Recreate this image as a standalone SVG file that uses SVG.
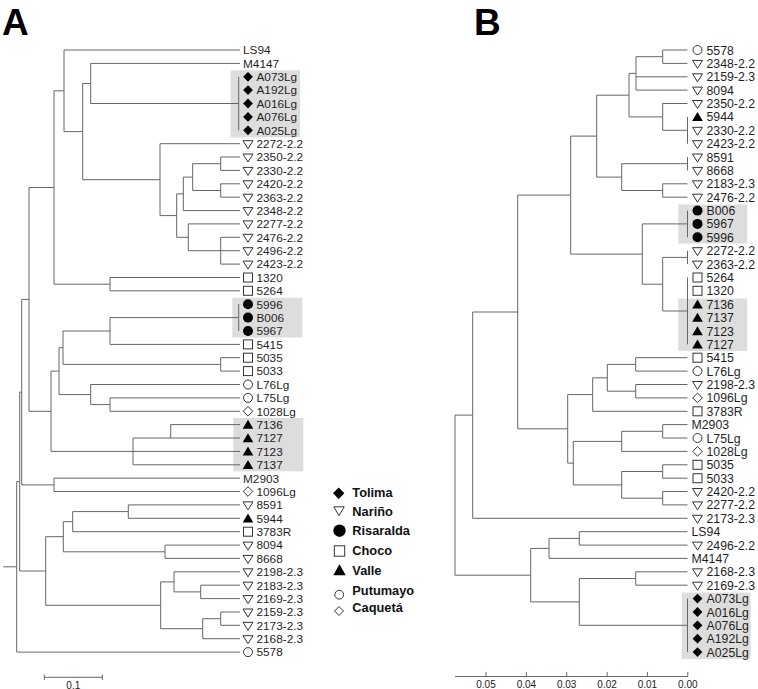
<svg xmlns="http://www.w3.org/2000/svg" xmlns:xlink="http://www.w3.org/1999/xlink" width="758" height="689" viewBox="0 0 758 689">
<style>
.br{fill:none;stroke:#666;stroke-width:1}
.la{font-family:"Liberation Sans",Arial,sans-serif;font-size:11.8px;fill:#1f1f1f}
.lb{font-family:"Liberation Sans",Arial,sans-serif;font-size:12.3px;fill:#1f1f1f}
.lg{font-family:"Liberation Sans",Arial,sans-serif;font-size:12.8px;font-weight:bold;fill:#111}
.pl{font-family:"Liberation Sans",Arial,sans-serif;font-size:37px;font-weight:bold;fill:#000}
.ax{font-family:"Liberation Sans",Arial,sans-serif;font-size:10px;fill:#222;text-anchor:middle}
.hl{fill:#dddddd}
.o{fill:#fff;stroke:#333;stroke-width:1}
.f{fill:#000}
</style>
<defs>
<polygon id="dia" class="f" points="0,-4.9 4.9,0 0,4.9 -4.9,0"/>
<polygon id="diao" class="o" points="0,-4.8 4.8,0 0,4.8 -4.8,0"/>
<polygon id="trd" class="o" points="-5,-3 5,-3 0,5"/>
<polygon id="tru" class="f" points="0,-4.8 5.3,4.2 -5.3,4.2"/>
<circle id="cir" class="f" r="5"/>
<circle id="ciro" class="o" r="4.5"/>
<rect id="sq" class="o" x="-4.5" y="-4.5" width="9" height="9"/>
</defs>
<rect width="758" height="689" fill="#fff"/>
<text class="pl" x="2" y="34.5">A</text>
<text class="pl" x="474" y="34.5">B</text>
<g id="highlights">
<rect class="hl" x="230.5" y="70.3" width="69.5" height="67"/>
<rect class="hl" x="232.3" y="297.7" width="70" height="39.8"/>
<rect class="hl" x="233.3" y="418" width="70" height="53.3"/>
<rect class="hl" x="678.3" y="204.5" width="69" height="39"/>
<rect class="hl" x="678.3" y="298.5" width="69" height="52.5"/>
<rect class="hl" x="681.7" y="592.5" width="69" height="66.5"/>
</g>
<g id="connectors">
<path class="br" d="M3.3,566.8H16.7M16.7,481.6V652.1M16.7,481.6H19.7M16.7,652.1H240M19.7,392.1V571M19.7,392.1H21.7M19.7,571H45.7M21.7,299.4V484.9M21.7,299.4H29M21.7,484.9H54M54,478.2V491.5M54,478.2H240M54,491.5H240M29,187.5V411.3M29,187.5H54M29,411.3H51M54,90.8V284.2M54,90.8H64M54,284.2H110M110,277.5V290.8M110,277.5H240M110,290.8H240M64,50V131.6M64,50H240M64,131.6H82.7M82.7,83.5V179.7M82.7,83.5H90.7M82.7,179.7H160M90.7,63.4V103.5M90.7,63.4H240M90.7,103.5H238.7M238.7,76.8V130.3M160,143.7V215.6M160,143.7H240M160,215.6H176.7M176.7,193.9V237.3M176.7,193.9H183.3M176.7,237.3H188.3M183.3,177.1V210.6M183.3,177.1H192.7M183.3,210.6H240M192.7,163.7V190.5M192.7,163.7H220.7M192.7,190.5H220.7M220.7,157V170.4M220.7,157H240M220.7,170.4H240M220.7,183.8V197.2M220.7,183.8H240M220.7,197.2H240M188.3,223.9V250.7M188.3,223.9H240M188.3,250.7H220.7M220.7,237.3V264.1M220.7,237.3H240M220.7,250.7H240M220.7,264.1H240M51,371.1V451.4M51,371.1H59M51,451.4H133M59,347.7V394.6M59,347.7H63M59,394.6H90.7M63,331V364.4M63,331H110M63,364.4H220.7M110,317.6V344.4M110,317.6H238.7M238.7,304.2V331M110,344.4H240M220.7,357.7V371.1M220.7,357.7H240M220.7,371.1H240M90.7,384.5V404.6M90.7,384.5H240M90.7,404.6H110M110,397.9V411.3M110,397.9H240M110,411.3H240M133,438V464.8M133,438H240M133,451.4H240M133,464.8H240M170.7,424.6V438M170.7,424.6H240M45.7,536.7V605.3M45.7,536.7H63.3M45.7,605.3H160.7M63.3,521.7V551.8M63.3,521.7H72.7M63.3,551.8H165M72.7,511.6V531.7M72.7,511.6H128.3M72.7,531.7H240M128.3,504.9V518.3M128.3,504.9H240M128.3,518.3H240M165,545.1V558.4M165,545.1H240M165,558.4H240M160.7,581.9V628.7M160.7,581.9H174M160.7,628.7H202.7M174,571.8V591.9M174,571.8H240M174,591.9H200.7M200.7,585.2V598.6M200.7,585.2H240M200.7,598.6H240M202.7,618.7V638.7M202.7,618.7H220.7M202.7,638.7H240M220.7,612V625.3M220.7,612H240M220.7,625.3H240"/>
<path class="br" d="M455,415.1V575.2M455,415.1H472.7M455,575.2H530.7M472.7,312V518.3M472.7,312H517.7M472.7,518.3H687.5M517.7,195.1V428.8M517.7,195.1H570.7M517.7,428.8H567.7M570.7,136.1V254.1M570.7,136.1H596.7M570.7,254.1H642.3M596.7,95.2V177.1M596.7,95.2H629M596.7,177.1H621.7M629,73.4V116.9M629,73.4H636M629,116.9H662.7M636,56.7V90.1M636,56.7H662.7M636,76.8H687.5M636,90.1H687.5M662.7,50V63.4M662.7,50H687.5M662.7,63.4H687.5M662.7,103.5V130.3M662.7,103.5H687.5M662.7,130.3H687.5M687.5,116.9V143.7M621.7,163.7V190.5M621.7,163.7H687.5M687.5,157V170.4M621.7,190.5H662.7M662.7,183.8V197.2M662.7,183.8H687.5M662.7,197.2H687.5M642.3,223.9V284.2M642.3,223.9H687.5M687.5,210.6V237.3M642.3,284.2H662.7M662.7,257.4V311M662.7,257.4H687.5M687.5,250.7V264.1M662.7,311H687.5M687.5,277.5V344.4M567.7,394.6V463.1M567.7,394.6H592.7M567.7,463.1H573.3M592.7,377.8V411.3M592.7,377.8H607.3M592.7,411.3H687.5M607.3,364.4V391.2M607.3,364.4H635.7M607.3,391.2H635.7M635.7,357.7V371.1M635.7,357.7H687.5M635.7,371.1H687.5M635.7,384.5V397.9M635.7,384.5H687.5M635.7,397.9H687.5M573.3,441.4V484.9M573.3,441.4H621.7M573.3,484.9H621.7M621.7,431.3V451.4M621.7,431.3H662.7M621.7,451.4H687.5M662.7,424.6V438M662.7,424.6H687.5M662.7,438H687.5M621.7,471.5V498.2M621.7,471.5H662.7M621.7,498.2H662.7M662.7,464.8V478.2M662.7,464.8H687.5M662.7,478.2H687.5M662.7,491.5V504.9M662.7,491.5H687.5M662.7,504.9H687.5M530.7,548.4V601.9M530.7,548.4H549M530.7,601.9H579.3M549,538.4V558.4M549,538.4H579.3M549,558.4H687.5M579.3,531.7V545.1M579.3,531.7H687.5M579.3,545.1H687.5M579.3,578.5V625.3M579.3,578.5H635.7M579.3,625.3H687.5M687.5,598.6V652.1M635.7,571.8V585.2M635.7,571.8H687.5M635.7,585.2H687.5"/>
</g>
<g id="scale-a">
<path class="br" d="M44.3,677.3H102.3M44.3,674.5V680M102.3,674.5V680"/>
<text class="ax" x="73.3" y="688.5">0.1</text>
</g>
<g id="axis-b">
<path class="br" d="M455,676.5H688M486,672V676.5M526.4,672V676.5M566.7,672V676.5M607.1,672V676.5M647.4,672V676.5M687.8,672V676.5"/>
<text class="ax" x="486" y="688">0.05</text>
<text class="ax" x="526.4" y="688">0.04</text>
<text class="ax" x="566.7" y="688">0.03</text>
<text class="ax" x="607.1" y="688">0.02</text>
<text class="ax" x="647.4" y="688">0.01</text>
<text class="ax" x="687.8" y="688">0.00</text>
</g>
<g id="tree-a">
<g id="a-LS94"><text class="la" x="243" y="54.3">LS94</text></g>
<g id="a-M4147"><text class="la" x="243" y="67.7">M4147</text></g>
<g id="a-A073Lg"><use href="#dia" x="248" y="76.8"/><text class="la" x="256.5" y="81.1">A073Lg</text></g>
<g id="a-A192Lg"><use href="#dia" x="248" y="90.1"/><text class="la" x="256.5" y="94.4">A192Lg</text></g>
<g id="a-A016Lg"><use href="#dia" x="248" y="103.5"/><text class="la" x="256.5" y="107.8">A016Lg</text></g>
<g id="a-A076Lg"><use href="#dia" x="248" y="116.9"/><text class="la" x="256.5" y="121.2">A076Lg</text></g>
<g id="a-A025Lg"><use href="#dia" x="248" y="130.3"/><text class="la" x="256.5" y="134.6">A025Lg</text></g>
<g id="a-2272"><use href="#trd" x="248" y="143.7"/><text class="la" x="256.5" y="148">2272-2.2</text></g>
<g id="a-2350"><use href="#trd" x="248" y="157"/><text class="la" x="256.5" y="161.3">2350-2.2</text></g>
<g id="a-2330"><use href="#trd" x="248" y="170.4"/><text class="la" x="256.5" y="174.7">2330-2.2</text></g>
<g id="a-2420"><use href="#trd" x="248" y="183.8"/><text class="la" x="256.5" y="188.1">2420-2.2</text></g>
<g id="a-2363"><use href="#trd" x="248" y="197.2"/><text class="la" x="256.5" y="201.5">2363-2.2</text></g>
<g id="a-2348"><use href="#trd" x="248" y="210.6"/><text class="la" x="256.5" y="214.9">2348-2.2</text></g>
<g id="a-2277"><use href="#trd" x="248" y="223.9"/><text class="la" x="256.5" y="228.2">2277-2.2</text></g>
<g id="a-2476"><use href="#trd" x="248" y="237.3"/><text class="la" x="256.5" y="241.6">2476-2.2</text></g>
<g id="a-2496"><use href="#trd" x="248" y="250.7"/><text class="la" x="256.5" y="255">2496-2.2</text></g>
<g id="a-2423"><use href="#trd" x="248" y="264.1"/><text class="la" x="256.5" y="268.4">2423-2.2</text></g>
<g id="a-1320"><use href="#sq" x="248" y="277.5"/><text class="la" x="256.5" y="281.8">1320</text></g>
<g id="a-5264"><use href="#sq" x="248" y="290.8"/><text class="la" x="256.5" y="295.1">5264</text></g>
<g id="a-5996"><use href="#cir" x="248" y="304.2"/><text class="la" x="256.5" y="308.5">5996</text></g>
<g id="a-B006"><use href="#cir" x="248" y="317.6"/><text class="la" x="256.5" y="321.9">B006</text></g>
<g id="a-5967"><use href="#cir" x="248" y="331"/><text class="la" x="256.5" y="335.3">5967</text></g>
<g id="a-5415"><use href="#sq" x="248" y="344.4"/><text class="la" x="256.5" y="348.7">5415</text></g>
<g id="a-5035"><use href="#sq" x="248" y="357.7"/><text class="la" x="256.5" y="362">5035</text></g>
<g id="a-5033"><use href="#sq" x="248" y="371.1"/><text class="la" x="256.5" y="375.4">5033</text></g>
<g id="a-L76Lg"><use href="#ciro" x="248" y="384.5"/><text class="la" x="256.5" y="388.8">L76Lg</text></g>
<g id="a-L75Lg"><use href="#ciro" x="248" y="397.9"/><text class="la" x="256.5" y="402.2">L75Lg</text></g>
<g id="a-1028Lg"><use href="#diao" x="248" y="411.3"/><text class="la" x="256.5" y="415.6">1028Lg</text></g>
<g id="a-7136"><use href="#tru" x="248" y="424.6"/><text class="la" x="256.5" y="428.9">7136</text></g>
<g id="a-7127"><use href="#tru" x="248" y="438"/><text class="la" x="256.5" y="442.3">7127</text></g>
<g id="a-7123"><use href="#tru" x="248" y="451.4"/><text class="la" x="256.5" y="455.7">7123</text></g>
<g id="a-7137"><use href="#tru" x="248" y="464.8"/><text class="la" x="256.5" y="469.1">7137</text></g>
<g id="a-M2903"><text class="la" x="243" y="482.5">M2903</text></g>
<g id="a-1096Lg"><use href="#diao" x="248" y="491.5"/><text class="la" x="256.5" y="495.8">1096Lg</text></g>
<g id="a-8591"><use href="#trd" x="248" y="504.9"/><text class="la" x="256.5" y="509.2">8591</text></g>
<g id="a-5944"><use href="#tru" x="248" y="518.3"/><text class="la" x="256.5" y="522.6">5944</text></g>
<g id="a-3783R"><use href="#sq" x="248" y="531.7"/><text class="la" x="256.5" y="536">3783R</text></g>
<g id="a-8094"><use href="#trd" x="248" y="545.1"/><text class="la" x="256.5" y="549.4">8094</text></g>
<g id="a-8668"><use href="#trd" x="248" y="558.4"/><text class="la" x="256.5" y="562.7">8668</text></g>
<g id="a-2198"><use href="#trd" x="248" y="571.8"/><text class="la" x="256.5" y="576.1">2198-2.3</text></g>
<g id="a-2183"><use href="#trd" x="248" y="585.2"/><text class="la" x="256.5" y="589.5">2183-2.3</text></g>
<g id="a-2169"><use href="#trd" x="248" y="598.6"/><text class="la" x="256.5" y="602.9">2169-2.3</text></g>
<g id="a-2159"><use href="#trd" x="248" y="612"/><text class="la" x="256.5" y="616.3">2159-2.3</text></g>
<g id="a-2173"><use href="#trd" x="248" y="625.3"/><text class="la" x="256.5" y="629.6">2173-2.3</text></g>
<g id="a-2168"><use href="#trd" x="248" y="638.7"/><text class="la" x="256.5" y="643">2168-2.3</text></g>
<g id="a-5578"><use href="#ciro" x="248" y="652.1"/><text class="la" x="256.5" y="656.4">5578</text></g>
</g>
<g id="tree-b">
<g id="b-5578"><use href="#ciro" x="697.5" y="50"/><text class="lb" x="706.5" y="54.5">5578</text></g>
<g id="b-2348"><use href="#trd" x="697.5" y="63.4"/><text class="lb" x="706.5" y="67.9">2348-2.2</text></g>
<g id="b-2159"><use href="#trd" x="697.5" y="76.8"/><text class="lb" x="706.5" y="81.3">2159-2.3</text></g>
<g id="b-8094"><use href="#trd" x="697.5" y="90.1"/><text class="lb" x="706.5" y="94.6">8094</text></g>
<g id="b-2350"><use href="#trd" x="697.5" y="103.5"/><text class="lb" x="706.5" y="108">2350-2.2</text></g>
<g id="b-5944"><use href="#tru" x="697.5" y="116.9"/><text class="lb" x="706.5" y="121.4">5944</text></g>
<g id="b-2330"><use href="#trd" x="697.5" y="130.3"/><text class="lb" x="706.5" y="134.8">2330-2.2</text></g>
<g id="b-2423"><use href="#trd" x="697.5" y="143.7"/><text class="lb" x="706.5" y="148.2">2423-2.2</text></g>
<g id="b-8591"><use href="#trd" x="697.5" y="157"/><text class="lb" x="706.5" y="161.5">8591</text></g>
<g id="b-8668"><use href="#trd" x="697.5" y="170.4"/><text class="lb" x="706.5" y="174.9">8668</text></g>
<g id="b-2183"><use href="#trd" x="697.5" y="183.8"/><text class="lb" x="706.5" y="188.3">2183-2.3</text></g>
<g id="b-2476"><use href="#trd" x="697.5" y="197.2"/><text class="lb" x="706.5" y="201.7">2476-2.2</text></g>
<g id="b-B006"><use href="#cir" x="697.5" y="210.6"/><text class="lb" x="706.5" y="215.1">B006</text></g>
<g id="b-5967"><use href="#cir" x="697.5" y="223.9"/><text class="lb" x="706.5" y="228.4">5967</text></g>
<g id="b-5996"><use href="#cir" x="697.5" y="237.3"/><text class="lb" x="706.5" y="241.8">5996</text></g>
<g id="b-2272"><use href="#trd" x="697.5" y="250.7"/><text class="lb" x="706.5" y="255.2">2272-2.2</text></g>
<g id="b-2363"><use href="#trd" x="697.5" y="264.1"/><text class="lb" x="706.5" y="268.6">2363-2.2</text></g>
<g id="b-5264"><use href="#sq" x="697.5" y="277.5"/><text class="lb" x="706.5" y="282">5264</text></g>
<g id="b-1320"><use href="#sq" x="697.5" y="290.8"/><text class="lb" x="706.5" y="295.3">1320</text></g>
<g id="b-7136"><use href="#tru" x="697.5" y="304.2"/><text class="lb" x="706.5" y="308.7">7136</text></g>
<g id="b-7137"><use href="#tru" x="697.5" y="317.6"/><text class="lb" x="706.5" y="322.1">7137</text></g>
<g id="b-7123"><use href="#tru" x="697.5" y="331"/><text class="lb" x="706.5" y="335.5">7123</text></g>
<g id="b-7127"><use href="#tru" x="697.5" y="344.4"/><text class="lb" x="706.5" y="348.9">7127</text></g>
<g id="b-5415"><use href="#sq" x="697.5" y="357.7"/><text class="lb" x="706.5" y="362.2">5415</text></g>
<g id="b-L76Lg"><use href="#ciro" x="697.5" y="371.1"/><text class="lb" x="706.5" y="375.6">L76Lg</text></g>
<g id="b-2198"><use href="#trd" x="697.5" y="384.5"/><text class="lb" x="706.5" y="389">2198-2.3</text></g>
<g id="b-1096Lg"><use href="#diao" x="697.5" y="397.9"/><text class="lb" x="706.5" y="402.4">1096Lg</text></g>
<g id="b-3783R"><use href="#sq" x="697.5" y="411.3"/><text class="lb" x="706.5" y="415.8">3783R</text></g>
<g id="b-M2903"><text class="lb" x="691.5" y="429.1">M2903</text></g>
<g id="b-L75Lg"><use href="#ciro" x="697.5" y="438"/><text class="lb" x="706.5" y="442.5">L75Lg</text></g>
<g id="b-1028Lg"><use href="#diao" x="697.5" y="451.4"/><text class="lb" x="706.5" y="455.9">1028Lg</text></g>
<g id="b-5035"><use href="#sq" x="697.5" y="464.8"/><text class="lb" x="706.5" y="469.3">5035</text></g>
<g id="b-5033"><use href="#sq" x="697.5" y="478.2"/><text class="lb" x="706.5" y="482.7">5033</text></g>
<g id="b-2420"><use href="#trd" x="697.5" y="491.5"/><text class="lb" x="706.5" y="496">2420-2.2</text></g>
<g id="b-2277"><use href="#trd" x="697.5" y="504.9"/><text class="lb" x="706.5" y="509.4">2277-2.2</text></g>
<g id="b-2173"><use href="#trd" x="697.5" y="518.3"/><text class="lb" x="706.5" y="522.8">2173-2.3</text></g>
<g id="b-LS94"><text class="lb" x="691.5" y="536.2">LS94</text></g>
<g id="b-2496"><use href="#trd" x="697.5" y="545.1"/><text class="lb" x="706.5" y="549.6">2496-2.2</text></g>
<g id="b-M4147"><text class="lb" x="691.5" y="562.9">M4147</text></g>
<g id="b-2168"><use href="#trd" x="697.5" y="571.8"/><text class="lb" x="706.5" y="576.3">2168-2.3</text></g>
<g id="b-2169"><use href="#trd" x="697.5" y="585.2"/><text class="lb" x="706.5" y="589.7">2169-2.3</text></g>
<g id="b-A073Lg"><use href="#dia" x="697.5" y="598.6"/><text class="lb" x="706.5" y="603.1">A073Lg</text></g>
<g id="b-A016Lg"><use href="#dia" x="697.5" y="612"/><text class="lb" x="706.5" y="616.5">A016Lg</text></g>
<g id="b-A076Lg"><use href="#dia" x="697.5" y="625.3"/><text class="lb" x="706.5" y="629.8">A076Lg</text></g>
<g id="b-A192Lg"><use href="#dia" x="697.5" y="638.7"/><text class="lb" x="706.5" y="643.2">A192Lg</text></g>
<g id="b-A025Lg"><use href="#dia" x="697.5" y="652.1"/><text class="lb" x="706.5" y="656.6">A025Lg</text></g>
</g>
<g id="legend">
<g id="leg-tolima"><polygon class="f" points="338.7,487.6 344.4,493.3 338.7,499 333,493.3"/><text class="lg" x="352.3" y="497">Tolima</text></g>
<g id="leg-narino"><polygon class="o" points="333.8,506.8 344.2,506.8 339,515.7"/><text class="lg" x="352.3" y="515.5">Nariño</text></g>
<g id="leg-risaralda"><circle class="f" cx="339.5" cy="530.7" r="6.2"/><text class="lg" x="352.3" y="535">Risaralda</text></g>
<g id="leg-choco"><rect class="o" x="334.3" y="545.8" width="10.4" height="10.4"/><text class="lg" x="352.3" y="555">Choco</text></g>
<g id="leg-valle"><polygon class="f" points="339.5,564.3 345.7,575.2 333.3,575.2"/><text class="lg" x="352.3" y="575">Valle</text></g>
<g id="leg-putumayo"><circle class="o" cx="339.2" cy="594.7" r="4.4"/><text class="lg" x="352.3" y="595">Putumayo</text></g>
<g id="leg-caqueta"><polygon class="o" points="339,606.5 343.5,611 339,615.5 334.5,611"/><text class="lg" x="352.3" y="612">Caquetá</text></g>
</g>
</svg>
